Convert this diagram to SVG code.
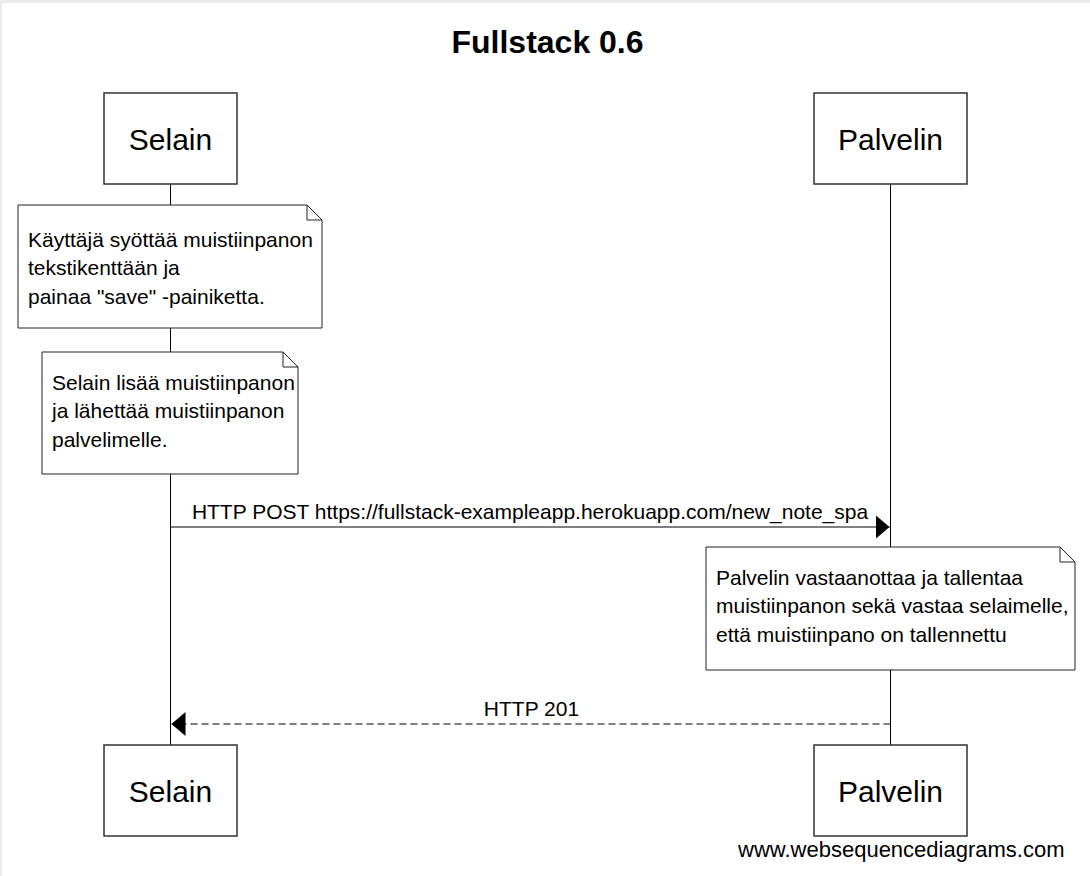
<svg xmlns="http://www.w3.org/2000/svg" width="1090" height="876" viewBox="0 0 1090 876">
  <style>
    text { font-family: "Liberation Sans", Arial, sans-serif; fill: #000; }
    .title { font-size: 32px; font-weight: bold; text-anchor: middle; }
    .actor rect { fill: #fff; stroke: #333; stroke-width: 1.5; }
    .actor text { font-size: 30px; text-anchor: middle; }
    .note path.body { fill: #fff; stroke: #222; stroke-width: 1; }
    .note path.fold { fill: none; stroke: #222; stroke-width: 1; }
    .note text { font-size: 21px; }
    .lifeline { stroke: #000; stroke-width: 1; }
    .msg { stroke: #000; stroke-width: 1.2; fill: none; }
    .dashed { stroke-dasharray: 7 4; }
    .label { font-size: 21px; text-anchor: middle; }
    .wm { font-size: 22px; }
  </style>
  <defs>
    <marker id="arrow" viewBox="0 0 14 24" refX="14" refY="12" markerWidth="14" markerHeight="24" markerUnits="userSpaceOnUse" orient="auto">
      <path d="M0,0 L14,12 L0,24 Z" fill="#000"/>
    </marker>
  </defs>
  <rect x="0" y="0" width="1090" height="876" fill="#fff"/>
  <rect x="0" y="0" width="1090" height="3" fill="#ececec"/>
  <rect x="0" y="0" width="2" height="876" fill="#ececec"/>

  <text class="title" x="547.5" y="53">Fullstack 0.6</text>

  <g id="lifelines">
    <line class="lifeline" x1="170.5" y1="184" x2="170.5" y2="745"/>
    <line class="lifeline" x1="890.5" y1="184" x2="890.5" y2="745"/>
  </g>

  <g id="actor-selain-top" class="actor">
    <rect x="104" y="93" width="133" height="91"/>
    <text x="170.5" y="150">Selain</text>
  </g>
  <g id="actor-palvelin-top" class="actor">
    <rect x="814" y="93" width="153" height="91"/>
    <text x="890.5" y="150">Palvelin</text>
  </g>

  <g id="note1" class="note">
    <path class="body" d="M18,205 H307 L322,220 V328 H18 Z"/>
    <path class="fold" d="M307,205 V220 H322"/>
    <text x="28" y="247">Käyttäjä syöttää muistiinpanon</text>
    <text x="28" y="275">tekstikenttään ja</text>
    <text x="28" y="304">painaa "save" -painiketta.</text>
  </g>

  <g id="note2" class="note">
    <path class="body" d="M42,352 H283 L298,367 V474 H42 Z"/>
    <path class="fold" d="M283,352 V367 H298"/>
    <text x="52" y="390">Selain lisää muistiinpanon</text>
    <text x="52" y="418">ja lähettää muistiinpanon</text>
    <text x="52" y="447">palvelimelle.</text>
  </g>

  <g id="connectors">
    <line class="msg" x1="170.5" y1="527" x2="889.5" y2="527" marker-end="url(#arrow)"/>
    <text class="label" x="530" y="519">HTTP POST https://fullstack-exampleapp.herokuapp.com/new_note_spa</text>
    <line class="msg dashed" x1="890.5" y1="724" x2="171.5" y2="724" marker-end="url(#arrow)"/>
    <text class="label" x="531.5" y="716">HTTP 201</text>
  </g>

  <g id="note3" class="note">
    <path class="body" d="M706,547 H1060 L1075,562 V670 H706 Z"/>
    <path class="fold" d="M1060,547 V562 H1075"/>
    <text x="716" y="585">Palvelin vastaanottaa ja tallentaa</text>
    <text x="716" y="613">muistiinpanon sekä vastaa selaimelle,</text>
    <text x="716" y="642">että muistiinpano on tallennettu</text>
  </g>

  <g id="actor-selain-bottom" class="actor">
    <rect x="104" y="745" width="133" height="91"/>
    <text x="170.5" y="802">Selain</text>
  </g>
  <g id="actor-palvelin-bottom" class="actor">
    <rect x="814" y="745" width="153" height="91"/>
    <text x="890.5" y="802">Palvelin</text>
  </g>

  <text class="wm" x="738" y="857">www.websequencediagrams.com</text>
</svg>
